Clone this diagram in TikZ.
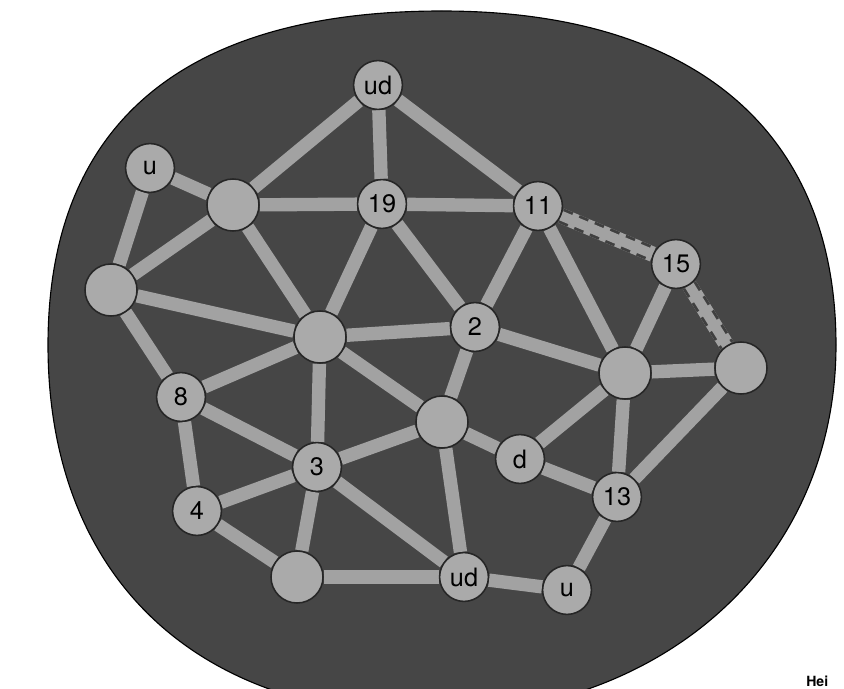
\documentclass[tikz,border=0pt]{standalone}
\usepackage{fontspec}
\setmainfont{TeX Gyre Heros}
\usetikzlibrary{backgrounds}

\definecolor{plate}{HTML}{464646}
\definecolor{band}{HTML}{A2A2A2}
\definecolor{disc}{HTML}{AAAAAA}

\begin{document}
\begin{tikzpicture}[
  x=0.025cm, y=-0.025cm,
  %% ── node styles ────────────────────────────────────────────────────
  %% Numbered / lettered discs
  dot/.style  ={circle, draw=black!85, line width=1.1pt, fill=disc,
                minimum size=1.22cm, inner sep=0pt,
                font=\fontsize{18}{19}\selectfont},
  %% Plain discs, a little larger
  blank/.style={dot, minimum size=1.30cm},
  %% Connectors
  link/.style ={line width=9.5pt, draw=band},
  dlink/.style={line width=11pt, draw=black!75, dash pattern=on 7pt off 5pt},
]

\useasboundingbox (0,0) rectangle (844,689);
\clip (0,0) rectangle (844,689);

%% ════════════════════════════════════════════════════════════════════
%% NODES  (pixel grid, y downwards)
%% ════════════════════════════════════════════════════════════════════

%% Top rows
\node[dot]   (udT) at (378, 85) {ud};
\node[dot]   (uL)  at (150,168) {u};
\node[blank] (A)   at (233,205) {};
\node[dot]   (n19) at (382,204) {19};
\node[dot]   (n11) at (538,206) {11};
\node[dot]   (n15) at (676,264) {15};

%% Middle rows
\node[blank] (B)   at (111,290) {};
\node[blank] (C)   at (320,337) {};
\node[dot]   (n2)  at (475,327) {2};
\node[blank] (D)   at (625,373) {};
\node[blank] (E)   at (741,368) {};
\node[dot]   (n8)  at (181,397) {8};
\node[blank] (F)   at (442,422) {};
\node[dot]   (d)   at (520,459) {d};
\node[dot]   (n3)  at (317,467) {3};
\node[dot]   (n13) at (617,497) {13};

%% Bottom rows
\node[dot]   (n4)  at (197,511) {4};
\node[blank] (G)   at (297,577) {};
\node[dot]   (udB) at (464,577) {ud};
\node[dot]   (uB)  at (567,590) {u};

%% Credit, cut off at the page edge
\node[anchor=base west, inner sep=0pt, font=\bfseries\fontsize{10}{11}\selectfont]
  (credit) at (806,686) {Hei};

%% ════════════════════════════════════════════════════════════════════
%% PLATE AND LINKS  (behind the discs)
%% ════════════════════════════════════════════════════════════════════
\begin{scope}[on background layer]

%% Speckled plate: flat-topped oval, runs off the bottom edge
\filldraw[fill=plate, draw=black, line width=0.8pt]
  (442,11)  .. controls (694,11)  and (836,131) .. (836,345)
            .. controls (836,560) and (665,715) .. (430,715)
            .. controls (193,715) and (48,574)  .. (48,345)
            .. controls (48,125)  and (182,11)  .. cycle;

%% Solid links
\foreach \a/\b in {udT/n19, udT/A, udT/n11, uL/A, uL/B, A/n19, A/B, A/C,
                   n19/n11, n19/C, n19/n2, n11/n2, n11/D, n15/D,
                   B/C, B/n8, C/n2, C/n8, C/n3, C/F, n2/D, n2/F,
                   D/E, D/n13, D/d, E/n13, n8/n3, n8/n4,
                   F/n3, F/d, F/udB, d/n13, n3/n4, n3/G, n3/udB,
                   n13/uB, n4/G, G/udB, udB/uB}
  \draw[link] (\a) -- (\b);

%% Dashed links (dark dashes along both rims)
\foreach \a/\b in {n11/n15, n15/E} {
  \draw[link, line width=11pt] (\a) -- (\b);
  \draw[dlink] (\a) -- (\b);
  \draw[link, line width=7pt] (\a) -- (\b);
}

\end{scope}

\end{tikzpicture}
\end{document}
